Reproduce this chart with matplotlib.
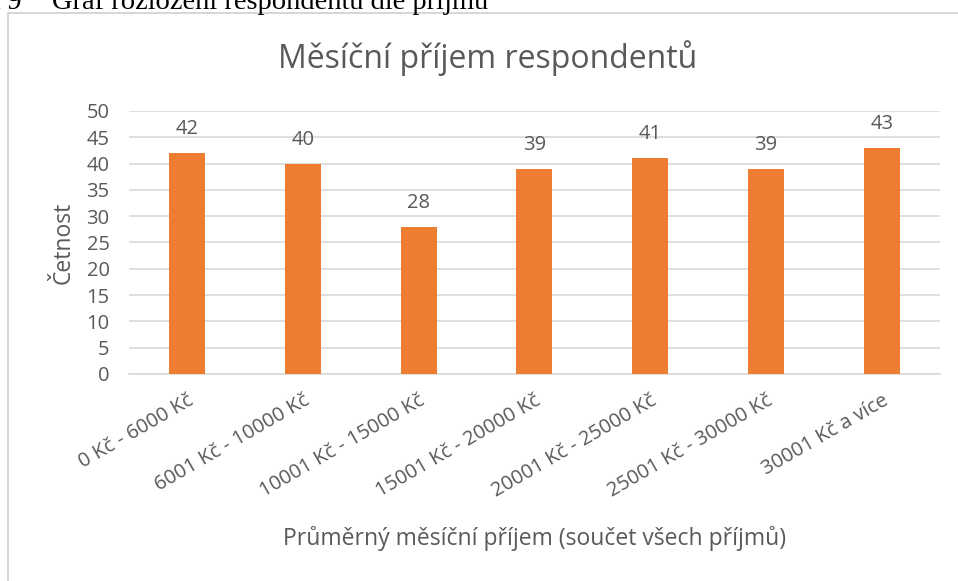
import matplotlib

matplotlib.use("Agg")
import matplotlib.pyplot as plt
from matplotlib.patches import Rectangle

categories = ["0 Kč - 6000 Kč", "6001 Kč - 10000 Kč", "10001 Kč - 15000 Kč",
              "15001 Kč - 20000 Kč", "20001 Kč - 25000 Kč",
              "25001 Kč - 30000 Kč", "30001 Kč a více"]
counts = [42, 40, 28, 39, 41, 39, 43]
yticks = [0, 5, 10, 15, 20, 25, 30, 35, 40, 45, 50]

ORANGE = "#ED7D31"
TEXT = "#595959"
GRID = "#D9D9D9"
FONT = ["Open Sans", "DejaVu Sans"]

plt.rcParams["font.family"] = FONT

fig = plt.figure(figsize=(9.58, 5.81), dpi=100)
ax = fig.add_axes([0.1347, 0.3563, 0.8463, 0.4527])

# chart frame and the caption above it (cut off at the top, as in the source)
fig.patches.append(Rectangle((8 / 958, -0.05), 1.0, 1 - 13 / 581 + 0.05,
                             transform=fig.transFigure, fill=False,
                             edgecolor="#D0D0D0", linewidth=1.2))
fig.text(52 / 958, 1 - 9 / 581, "Graf rozložení respondentů dle příjmu",
         family="Liberation Serif", fontsize=20.5, va="baseline", color="black")
fig.text(22 / 958, 1 - 9 / 581, "k 9", family="Liberation Serif",
         fontsize=20.5, va="baseline", ha="right", color="black")

x = range(len(categories))
ax.bar(x, counts, width=0.31, color=ORANGE, zorder=3)
for xi, c in zip(x, counts):
    ax.annotate(str(c), (xi, c), xytext=(0, 10), textcoords="offset points",
                ha="center", va="bottom", fontsize=14.5, color=TEXT)

ax.set_xlim(-0.5, len(categories) - 0.5)
ax.set_ylim(0, 50)
ax.set_yticks(yticks)
ax.yaxis.grid(True, color=GRID, linewidth=1.2, zorder=0)
ax.set_axisbelow(True)
for s in ["top", "right", "left"]:
    ax.spines[s].set_visible(False)
ax.spines["bottom"].set_color(GRID)
ax.spines["bottom"].set_linewidth(1.2)
ax.tick_params(axis="both", length=0, colors=TEXT)
ax.tick_params(axis="y", pad=14, labelsize=14.5)
ax.set_xticks(list(x))
ax.set_xticklabels(categories, rotation=30, ha="right",
                   rotation_mode="anchor", fontsize=14.5)
ax.tick_params(axis="x", pad=12)

ax.set_ylabel("Četnost", fontsize=16.5, color=TEXT, labelpad=8)
ax.set_xlabel("Průměrný měsíční příjem (součet všech příjmů)", fontsize=16.5,
              color=TEXT, labelpad=18)
fig.text(488 / 958, 1 - 58 / 581, "Měsíční příjem respondentů", fontsize=23,
         color=TEXT, ha="center", va="center")

fig.savefig("out.png", dpi=100, facecolor="white")
